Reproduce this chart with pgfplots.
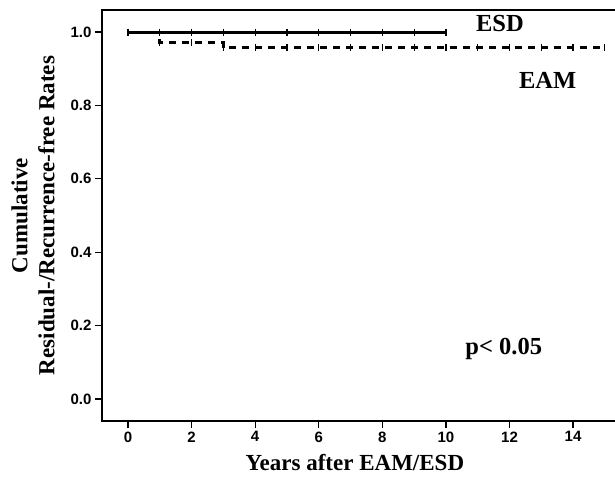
\documentclass[border=0pt]{standalone}
\usepackage{fontspec}
\setmainfont{Liberation Serif}
\setsansfont{Liberation Sans}
\usepackage{pgfplots}
\pgfplotsset{compat=1.18}
\begin{document}
\begin{tikzpicture}
\begin{axis}[
  scale only axis, width=514pt, height=411pt,
  xmin=-0.818, xmax=15.35, ymin=-0.060, ymax=1.060,
  axis line style={line width=1.2pt},
  xtick={0,2,...,14}, ytick={0,0.2,...,1.0},
  tick align=outside, tick pos=left,
  major tick length=7pt,
  every tick/.style={line width=1.2pt, black},
  /pgf/number format/assume math mode=true,
  yticklabel style={/pgf/number format/.cd, fixed, fixed zerofill, precision=1},
  tick label style={font=\sffamily\bfseries\fontsize{15}{17}\selectfont},
  xlabel={Years after EAM/ESD},
  ylabel={Cumulative\\Residual-/Recurrence-free Rates},
  label style={font=\bfseries\fontsize{23}{27}\selectfont, align=center},
  xlabel style={at={(axis description cs:0.492,-0.100)}, anchor=center},
  ylabel style={at={(axis description cs:-0.134,0.5)}, anchor=center},
]
\addplot[black, line width=2.6pt, mark=|, mark size=3.5pt, mark options={solid, line width=1.2pt}]
  coordinates {(0,0.998)(1,0.998)(2,0.998)(3,0.998)(4,0.998)(5,0.998)(6,0.998)(7,0.998)(8,0.998)(9,0.998)(10,0.998)};
\addplot[black, line width=2.6pt, dash pattern=on 7pt off 6pt, const plot, no marks]
  coordinates {(0,1)(1,0.971)(3,0.957)(15,0.957)};
\addplot[black, only marks, mark=|, mark size=3.5pt, mark options={solid, line width=1.2pt}]
  coordinates {(1,0.971)(2,0.971)(3,0.957)(4,0.957)(5,0.957)(6,0.957)(7,0.957)(8,0.957)(9,0.957)(10,0.957)(11,0.957)(12,0.957)(13,0.957)(14,0.957)(15,0.957)};
\node[font=\bfseries\fontsize{24.5}{28}\selectfont] at (axis cs:11.7,1.024) {ESD};
\node[font=\bfseries\fontsize{24.5}{28}\selectfont] at (axis cs:13.2,0.869) {EAM};
\node[font=\bfseries\fontsize{24.5}{28}\selectfont] at (axis cs:11.82,0.136) {p< 0.05};
\end{axis}
\pgfresetboundingbox
\path[use as bounding box] ([shift={(-102pt,-56pt)}]current axis.south west) rectangle ([shift={(-1pt,10pt)}]current axis.north east);
\end{tikzpicture}
\end{document}
